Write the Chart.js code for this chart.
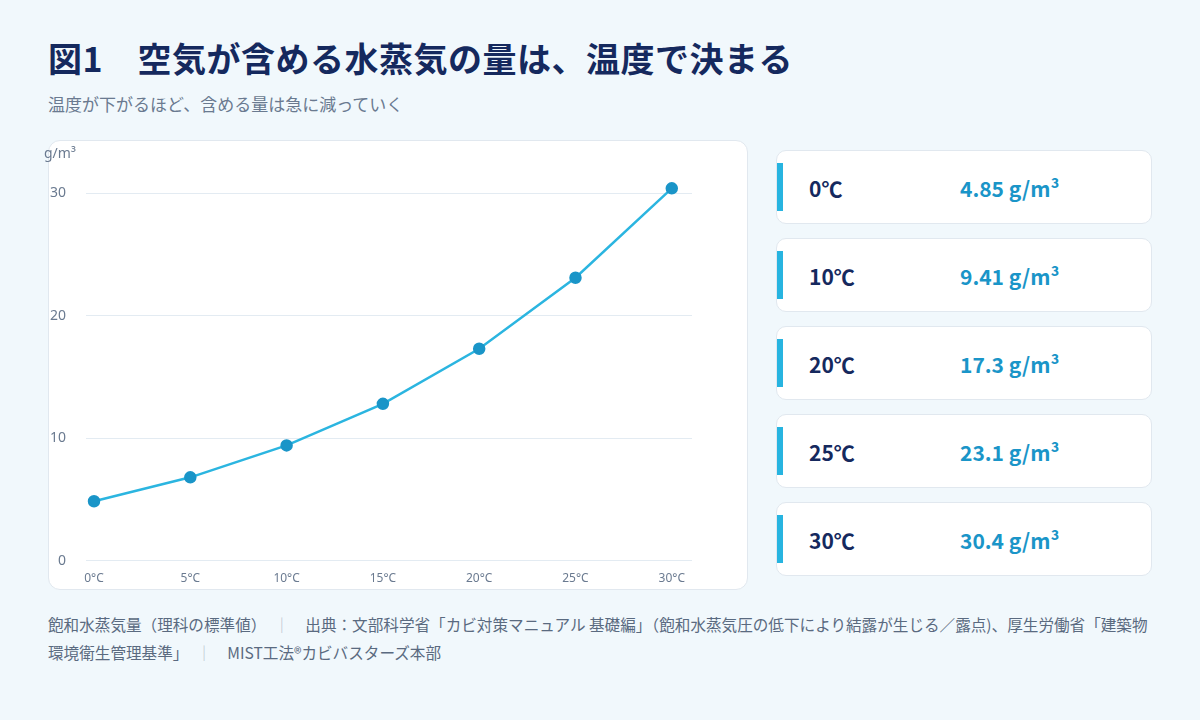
<!DOCTYPE html>
<html><head><meta charset="utf-8">
<script src="https://cdn.jsdelivr.net/npm/chart.js@4"></script>
<style>
body{margin:0;width:1200px;height:720px;background:#f1f8fc;font-family:"Noto Sans CJK JP","Noto Sans",sans-serif;position:relative;overflow:hidden}
h1{position:absolute;left:48px;top:33px;margin:0;font-size:34px;font-weight:700;color:#15295e;letter-spacing:0.5px}
.sub{position:absolute;left:48px;top:91px;font-size:17px;color:#6a7a90}
.card{position:absolute;left:48px;top:140px;width:700px;height:450px;background:#fff;border:1px solid #e1e8ef;border-radius:12px;box-sizing:border-box}
#wrap{position:absolute;left:30px;top:140px;width:720px;height:455px}
.kpi{position:absolute;left:776px;width:376px;height:74px;background:#fff;border:1px solid #e1e8ef;border-radius:10px;box-sizing:border-box}
.kpi .bar{position:absolute;left:0;top:12px;width:6px;height:48px;background:#27b4e0}
.kpi .t{position:absolute;left:32px;top:22px;font-size:21px;font-weight:700;color:#15295e}
.kpi .v{position:absolute;left:183px;top:22px;font-size:21px;font-weight:700;color:#1a95c8}
.src{position:absolute;left:48px;top:610px;width:1110px;font-size:15.6px;line-height:28px;color:#5a6a80}
.sep{color:#b8c2cc}
</style></head><body>
<h1>図1　空気が含める水蒸気の量は、温度で決まる</h1>
<div class="sub">温度が下がるほど、含める量は急に減っていく</div>
<div class="card"></div>
<div id="wrap"><canvas id="c"></canvas></div>
<div id="kpis"></div>
<div class="src">飽和水蒸気量（理科の標準値）　<span class="sep">｜</span>　出典：文部科学省「カビ対策マニュアル 基礎編」（飽和水蒸気圧の低下により結露が生じる／露点)、厚生労働省「建築物環境衛生管理基準」　<span class="sep">｜</span>　MIST工法®カビバスターズ本部</div>
<script>
const temps = [0, 5, 10, 15, 20, 25, 30];
const vapor = [4.85, 6.8, 9.41, 12.8, 17.3, 23.1, 30.4];
const yTicks = [0, 10, 20, 30];
const kpiLabels = ["0℃", "10℃", "20℃", "25℃", "30℃"];
const kpiValues = ["4.85", "9.41", "17.3", "23.1", "30.4"];

// side cards
const box = document.getElementById("kpis");
kpiLabels.forEach((l, i) => {
  const d = document.createElement("div");
  d.className = "kpi";
  d.style.top = (150 + i * 88) + "px";
  d.innerHTML = '<div class="bar"></div><div class="t">' + l + '</div><div class="v">' + kpiValues[i] + ' g/m³</div>';
  box.appendChild(d);
});

const c = document.getElementById("c");
c.width = 720; c.height = 455;
new Chart(c, {
  type: "line",
  data: {
    datasets: [{
      data: temps.map((t, i) => ({x: t, y: vapor[i]})),
      borderColor: "#2bb5e0",
      borderWidth: 2.5,
      pointBackgroundColor: "#1a95c8",
      pointBorderColor: "#1a95c8",
      pointRadius: 5,
      tension: 0,
      clip: false
    }]
  },
  options: {
    responsive: false,
    animation: false,
    layout: {padding: {top: 30, right: 58, bottom: 6, left: 0}},
    plugins: {legend: {display: false}, tooltip: {enabled: false}},
    scales: {
      x: {
        type: "linear", min: 0, max: 31.05,
        afterBuildTicks: s => { s.ticks = temps.map(v => ({value: v})); },
        grid: {display: false}, border: {display: false},
        ticks: {color: "#6a7a90", font: {size: 12, family: "Noto Sans"}, maxRotation: 0,
          callback: v => v + "°C"}
      },
      y: {
        min: 0, max: 31.9,
        afterBuildTicks: s => { s.ticks = yTicks.map(v => ({value: v})); },
        grid: {color: "#e3ebf2"},
        border: {display: false},
        ticks: {color: "#6a7a90", font: {size: 14, family: "Noto Sans"}, padding: 20}
      }
    }
  },
  plugins: [{
    id: "unit",
    afterDraw(ch) {
      const x = ch.ctx;
      x.save();
      x.fillStyle = "#6a7a90";
      x.font = '14px "Noto Sans"';
      x.fillText("g/m³", 14, 18);
      x.restore();
    }
  }]
});
</script>
</body></html>
